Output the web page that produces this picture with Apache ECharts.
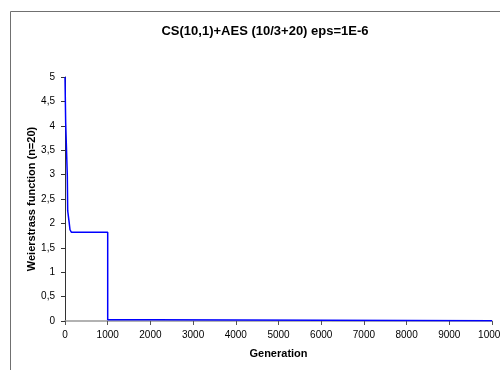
<!DOCTYPE html>
<html>
<head>
<meta charset="utf-8">
<script src="https://cdn.jsdelivr.net/npm/echarts@6/dist/echarts.min.js"></script>
<style>
html,body{margin:0;padding:0;background:#fff;}
#chart{width:500px;height:370px;}
</style>
</head>
<body>
<div id="chart"></div>
<script>
var titleText = "CS(10,1)+AES (10/3+20) eps=1E-6";
var xName = "Generation";
var yName = "Weierstrass function (n=20)";
// step changes: generation at which value changes, and the value from then on
var generations = [0, 16, 54, 63, 100, 117, 148, 1000, 2070, 10000];
var values      = [5, 4.06, 2.97, 2.26, 2.0, 1.87, 1.82, 0.025, 0.004, 0.004];

var data = generations.map(function(g, i){ return [g, values[i]]; });

var chart = echarts.init(document.getElementById('chart'), null, {renderer:'canvas'});
chart.setOption({
  animation:false,
  backgroundColor:'#fff',
  title:{
    text:titleText, left:260, top:20, textAlign:'center',
    textStyle:{fontFamily:'Liberation Sans', fontSize:13, fontWeight:'bold', color:'#000'}
  },
  graphic:[{
    type:'rect', shape:{x:10.5, y:11.5, width:1000, height:1000},
    style:{fill:null, stroke:'#707070', lineWidth:1}, silent:true
  }],
  grid:{left:65, right:8, top:77, bottom:49, outerBoundsMode:'none'},
  xAxis:{
    type:'value', min:0, max:10000, interval:1000,
    name:xName, nameLocation:'middle', nameGap:27, nameMoveOverlap:false,
    nameTextStyle:{fontFamily:'Liberation Sans', fontSize:11, fontWeight:'bold', color:'#000'},
    axisLine:{lineStyle:{color:'#999', width:1.5}},
    axisTick:{show:true, length:4, lineStyle:{color:'#555'}},
    axisLabel:{fontFamily:'Liberation Sans', fontSize:10, color:'#000', margin:9, showMaxLabel:true,
      alignMaxLabel:'center', hideOverlap:false,
      formatter:function(v){ return String(v); }},
    splitLine:{show:false}
  },
  yAxis:{
    type:'value', min:0, max:5, interval:0.5,
    name:yName, nameLocation:'middle', nameGap:28, nameMoveOverlap:false,
    nameTextStyle:{fontFamily:'Liberation Sans', fontSize:11, fontWeight:'bold', color:'#000'},
    axisLine:{show:true, lineStyle:{color:'#333', width:1}},
    axisTick:{show:true, length:4, lineStyle:{color:'#333'}},
    axisLabel:{fontFamily:'Liberation Sans', fontSize:10, color:'#000', margin:10,
      formatter:function(v){ return String(v).replace('.', ','); }},
    splitLine:{show:false}
  },
  series:[{
    type:'line', data:data, step:'end', showSymbol:false,
    lineStyle:{color:'#0000ff', width:1.5}, clip:true
  }]
});
</script>
</body>
</html>
